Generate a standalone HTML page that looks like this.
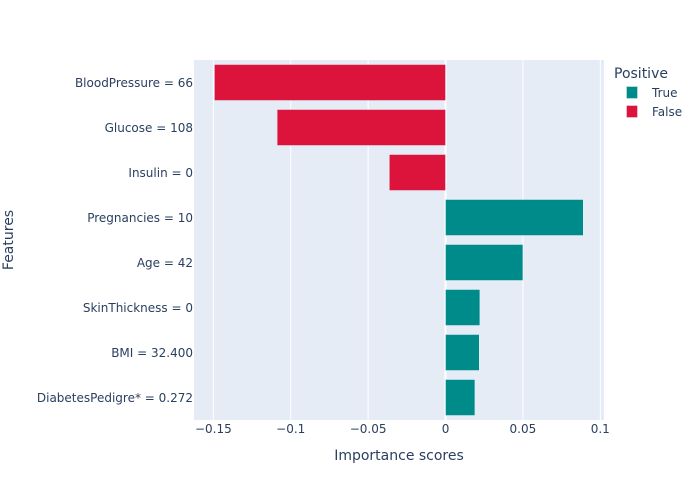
<!DOCTYPE html>
<html>
<head>
<meta charset="utf-8">
<style>
html,body{margin:0;padding:0;background:#fff;}
svg{display:block;font-family:"DejaVu Sans",sans-serif;}
text{fill:#2a3f5f;}
</style>
</head>
<body>
<svg id="chart" width="700" height="500" viewBox="0 0 700 500" xmlns="http://www.w3.org/2000/svg">
  <rect x="194" y="60" width="410" height="360" fill="#e5ecf6"></rect>
  <g id="grid"></g>
  <g id="bars"></g>
  <g id="xticks"></g>
  <g id="yticks"></g>
  <text x="399" y="460" font-size="14" text-anchor="middle">Importance scores</text>
  <text x="13" y="240" font-size="14" text-anchor="middle" transform="rotate(-90 13 240)">Features</text>
  <g>
    <text x="614" y="78" font-size="14">Positive</text>
    <g>
      <rect x="626.5" y="86.5" width="11" height="12" fill="#008b8b" stroke="#e5ecf6" stroke-width="0.5"></rect>
      <text x="652" y="97" font-size="12">True</text>
    </g>
    <g>
      <rect x="626.5" y="105.5" width="11" height="12" fill="#dc143c" stroke="#e5ecf6" stroke-width="0.5"></rect>
      <text x="652" y="116" font-size="12">False</text>
    </g>
  </g>
</svg>
<script>
const categories = ["BloodPressure = 66", "Glucose = 108", "Insulin = 0", "Pregnancies = 10", "Age = 42", "SkinThickness = 0", "BMI = 32.400", "DiabetesPedigre* = 0.272"];
const scores = [-0.1493, -0.1088, -0.0363, 0.089, 0.05, 0.0222, 0.0218, 0.019];
const xTickValues = [-0.15, -0.1, -0.05, 0, 0.05, 0.1];
const xTickLabels = ["\u22120.15", "\u22120.1", "\u22120.05", "0", "0.05", "0.1"];

const NS = "http://www.w3.org/2000/svg";
const plotTop = 60, plotHeight = 360, plotLeft = 194, plotRight = 604;
const domainMin = -0.1625, domainMax = 0.1024;
function xScale(v) {
  return plotLeft + (v - domainMin) / (domainMax - domainMin) * (plotRight - plotLeft);
}
function yBand() { return plotHeight / categories.length; }
function yScale(i) { return plotTop + yBand() * (i + 0.5); }
function make(tag, parent, attrs) {
  const el = document.createElementNS(NS, tag);
  for (const k in attrs) el.setAttribute(k, attrs[k]);
  parent.appendChild(el);
  return el;
}
const grid = document.getElementById("grid");
const xticks = document.getElementById("xticks");
const yticks = document.getElementById("yticks");
const bars = document.getElementById("bars");

xTickValues.forEach(function (v, i) {
  const x = xScale(v);
  const line = make("line", grid, {x1: x, x2: x, y1: plotTop, y2: plotTop + plotHeight, stroke: "#ffffff", "stroke-width": v === 0 ? 2 : 1});
  
  
  const t = make("text", xticks, {x: x, y: 433, "font-size": 12, "text-anchor": "middle"});
  t.textContent = xTickLabels[i];
  
  
});

categories.forEach(function (c, i) {
  const y = yScale(i);
  const t = make("text", yticks, {x: 193, y: y + 4.5, "font-size": 12, "text-anchor": "end"});
  t.textContent = c;
  
  
  const v = scores[i];
  const x0 = xScale(Math.min(v, 0));
  const x1 = xScale(Math.max(v, 0));
  const h = yBand() * 0.8;
  const r = make("rect", bars, {x: x0, y: y - h / 2, width: x1 - x0, height: h, fill: v >= 0 ? "#008b8b" : "#dc143c", stroke: "#e5ecf6", "stroke-width": 0.5});
  
  
});
</script>
</body>
</html>
